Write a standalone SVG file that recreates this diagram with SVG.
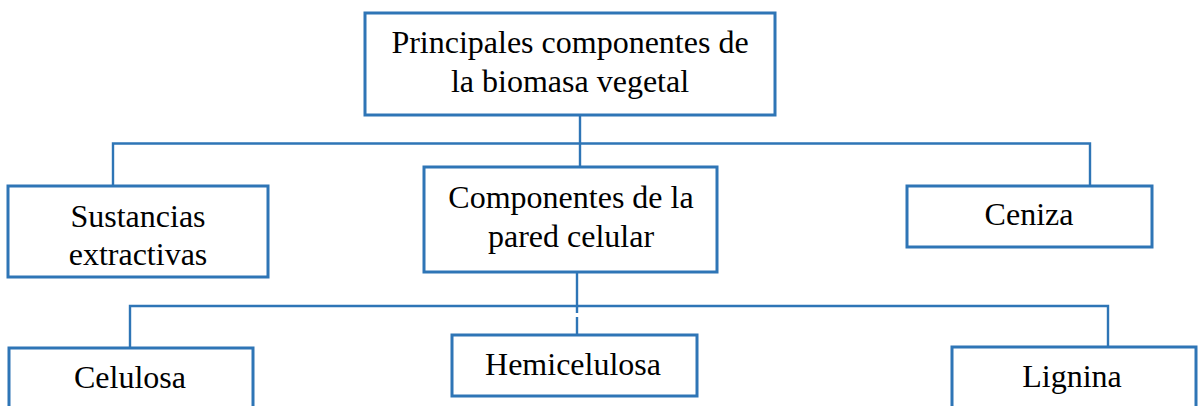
<svg xmlns="http://www.w3.org/2000/svg" width="1198" height="406" viewBox="0 0 1198 406">
<style>
.box{fill:#ffffff;stroke:#2E75B6;stroke-width:3}
.ln{fill:none;stroke:#2E75B6;stroke-width:2.4}
.t{font-family:"Liberation Serif","Times New Roman",serif;font-size:32px;fill:#000;text-anchor:middle}
</style>
<rect width="1198" height="406" fill="#ffffff"/>
<g id="connectors">
<path class="ln" d="M580 115 L580 167"/>
<path class="ln" d="M113 186 L113 143.5 L1090 143.5 L1090 186"/>
<path class="ln" d="M577 272 L577 306"/>
<path class="ln" d="M130 348 L130 306 L1108 306 L1108 347"/>
<path class="ln" d="M577 306 L577 313 M577 317 L577 335"/>
</g>
<g id="root">
<rect class="box" x="365" y="13" width="410" height="102"/>
<text class="t" x="570" y="53">Principales componentes de</text>
<text class="t" x="570" y="92">la biomasa vegetal</text>
</g>
<g id="sustancias">
<rect class="box" x="8" y="186" width="260" height="91"/>
<text class="t" x="138" y="227">Sustancias</text>
<text class="t" x="138" y="265">extractivas</text>
</g>
<g id="pared">
<rect class="box" x="424" y="167" width="293" height="105"/>
<text class="t" x="571" y="208">Componentes de la</text>
<text class="t" x="571" y="247">pared celular</text>
</g>
<g id="ceniza">
<rect class="box" x="907" y="186" width="245" height="61"/>
<text class="t" x="1029" y="225">Ceniza</text>
</g>
<g id="celulosa">
<rect class="box" x="9" y="348" width="244" height="80"/>
<text class="t" x="130" y="388">Celulosa</text>
</g>
<g id="hemicelulosa">
<rect class="box" x="452" y="335" width="245" height="61"/>
<text class="t" x="573" y="375">Hemicelulosa</text>
</g>
<g id="lignina">
<rect class="box" x="952" y="347" width="244" height="80"/>
<text class="t" x="1072" y="387">Lignina</text>
</g>
</svg>
